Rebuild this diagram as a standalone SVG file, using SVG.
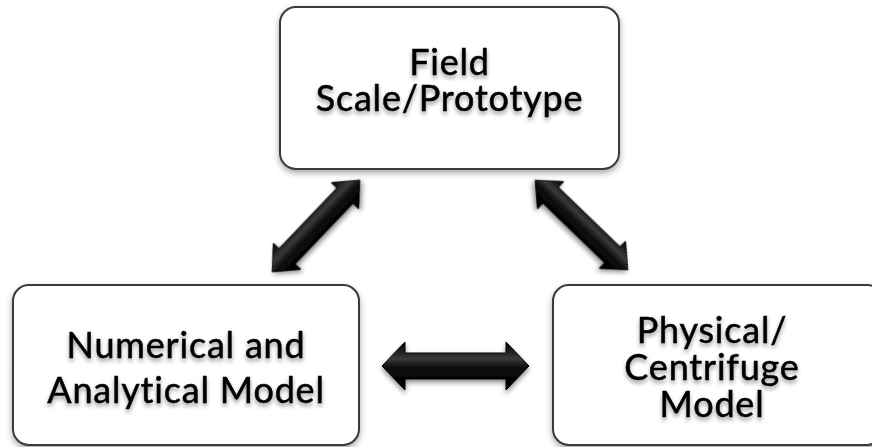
<svg xmlns="http://www.w3.org/2000/svg" width="872" height="447" viewBox="0 0 872 447">
<defs>
<filter id="boxShadow" x="-10%" y="-10%" width="120%" height="130%">
<feDropShadow dx="0" dy="3" stdDeviation="3" flood-color="#000" flood-opacity="0.35"/>
</filter>
<filter id="txtShadow" x="-10%" y="-20%" width="120%" height="150%">
<feDropShadow dx="0" dy="3" stdDeviation="2" flood-color="#000" flood-opacity="0.4"/>
</filter>
<filter id="arrShadow" x="-20%" y="-30%" width="140%" height="160%">
<feDropShadow dx="0" dy="3" stdDeviation="2.5" flood-color="#000" flood-opacity="0.45"/>
</filter>
<linearGradient id="gloss" x1="0" y1="0" x2="0" y2="1">
<stop offset="0" stop-color="#000"/>
<stop offset="0.35" stop-color="#3a3a3a"/>
<stop offset="0.55" stop-color="#0a0a0a"/>
<stop offset="1" stop-color="#000"/>
</linearGradient>
</defs>
<style>
.box{fill:#fff;stroke:#3a3a3a;stroke-width:2;filter:url(#boxShadow)}
.lbl{font-family:Lato,"Liberation Sans",sans-serif;font-size:36px;letter-spacing:0.8px;fill:#000;stroke:#000;stroke-width:0.5;text-anchor:middle;filter:url(#txtShadow)}
.arr{fill:url(#gloss);stroke:#000;stroke-width:1;filter:url(#arrShadow)}
</style>
<g id="connectors">
<polygon class="arr" transform="translate(455.5,366)" points="-73.5,0 -50.5,-24 -50.5,-13 50.5,-13 50.5,-24 73.5,0 50.5,24 50.5,13 -50.5,13 -50.5,24"/>
<polygon class="arr" transform="translate(316,226) rotate(-46.3)" points="-63.5,0 -42,-19 -42,-11 42,-11 42,-19 63.5,0 42,19 42,11 -42,11 -42,19"/>
<polygon class="arr" transform="translate(581.5,225) rotate(44)" points="-64.5,0 -43,-19 -43,-11 43,-11 43,-19 64.5,0 43,19 43,11 -43,11 -43,19"/>
</g>
<g id="field">
<rect class="box" x="280" y="7" width="339" height="162" rx="16"/>
<text class="lbl" x="449.5" y="75">Field</text>
<text class="lbl" x="449.5" y="111">Scale/Prototype</text>
</g>
<g id="numerical">
<rect class="box" x="13" y="285" width="346" height="160" rx="16"/>
<text class="lbl" x="186" y="358">Numerical and</text>
<text class="lbl" x="186" y="403">Analytical Model</text>
</g>
<g id="physical">
<rect class="box" x="553" y="285" width="330" height="160" rx="16"/>
<text class="lbl" x="712" y="343">Physical/</text>
<text class="lbl" x="712" y="380">Centrifuge</text>
<text class="lbl" x="712" y="417">Model</text>
</g>
</svg>
